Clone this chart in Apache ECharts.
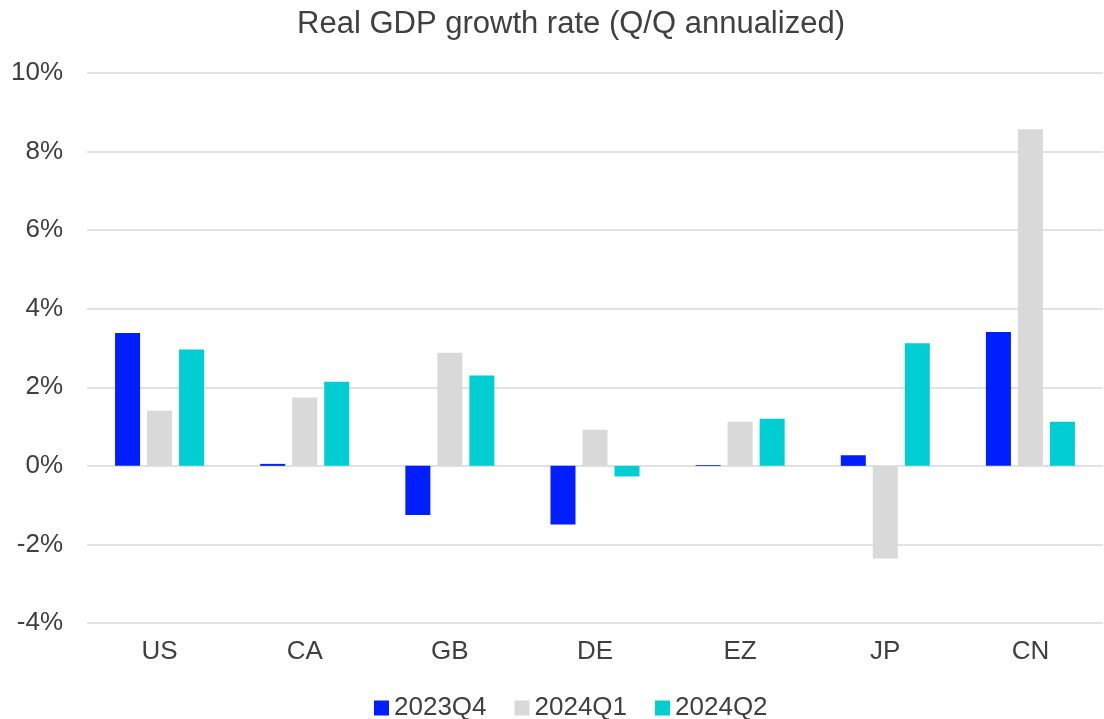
<!DOCTYPE html>
<html>
<head>
<meta charset="utf-8">
<script src="https://cdn.jsdelivr.net/npm/echarts@6/dist/echarts.min.js"></script>
<style>
  html, body { margin: 0; padding: 0; background: #ffffff; }
  #chart { width: 1104px; height: 719px; }
</style>
</head>
<body>
<div id="chart"></div>
<script>
// Economies on the x axis
const countries = ['US', 'CA', 'GB', 'DE', 'EZ', 'JP', 'CN'];

// Real GDP growth, Q/Q annualized, in percent
const q2023Q4 = [3.38, 0.05, -1.25, -1.49, 0.02, 0.27, 3.41];
const q2024Q1 = [1.40, 1.74, 2.88, 0.92, 1.12, -2.36, 8.57];
const q2024Q2 = [2.96, 2.14, 2.30, -0.27, 1.20, 3.12, 1.12];

const seriesNames = ['2023Q4', '2024Q1', '2024Q2'];
const colors = ['#001EFF', '#D9D9D9', '#00CED3'];

const font = 'Arial, "Liberation Sans", sans-serif';
const textColor = '#404040';

const chart = echarts.init(document.getElementById('chart'));

const seriesData = [q2023Q4, q2024Q1, q2024Q2];

chart.setOption({
  animation: false,
  color: colors,
  title: {
    text: 'Real GDP growth rate (Q/Q annualized)',
    left: 566,
    top: 4,
    textAlign: 'center',
    textStyle: { fontFamily: font, fontSize: 31, fontWeight: 'normal', color: textColor }
  },
  legend: {
    data: seriesNames,
    top: 690,
    left: 369,
    itemWidth: 15,
    itemHeight: 15,
    itemGap: 28,
    icon: 'rect',
    textStyle: { fontFamily: font, fontSize: 26, color: textColor }
  },
  grid: { left: 87, right: 1, top: 73, bottom: 96, containLabel: false },
  xAxis: {
    type: 'category',
    data: countries,
    axisLine: { show: false },
    axisTick: { show: false },
    axisLabel: { fontFamily: font, fontSize: 26, color: textColor, margin: 16 }
  },
  yAxis: {
    type: 'value',
    min: -4,
    max: 10,
    interval: 2,
    axisLine: { show: false },
    axisTick: { show: false },
    splitLine: { lineStyle: { color: '#D9D9D9', width: 1.5 } },
    axisLabel: {
      fontFamily: font, fontSize: 26, color: textColor, margin: 24,
      formatter: v => v + '%'
    }
  },
  series: seriesNames.map((name, i) => ({
    name,
    type: 'bar',
    data: seriesData[i],
    barWidth: 25,
    barGap: '28%',
    itemStyle: { color: colors[i] }
  }))
});
</script>
</body>
</html>
